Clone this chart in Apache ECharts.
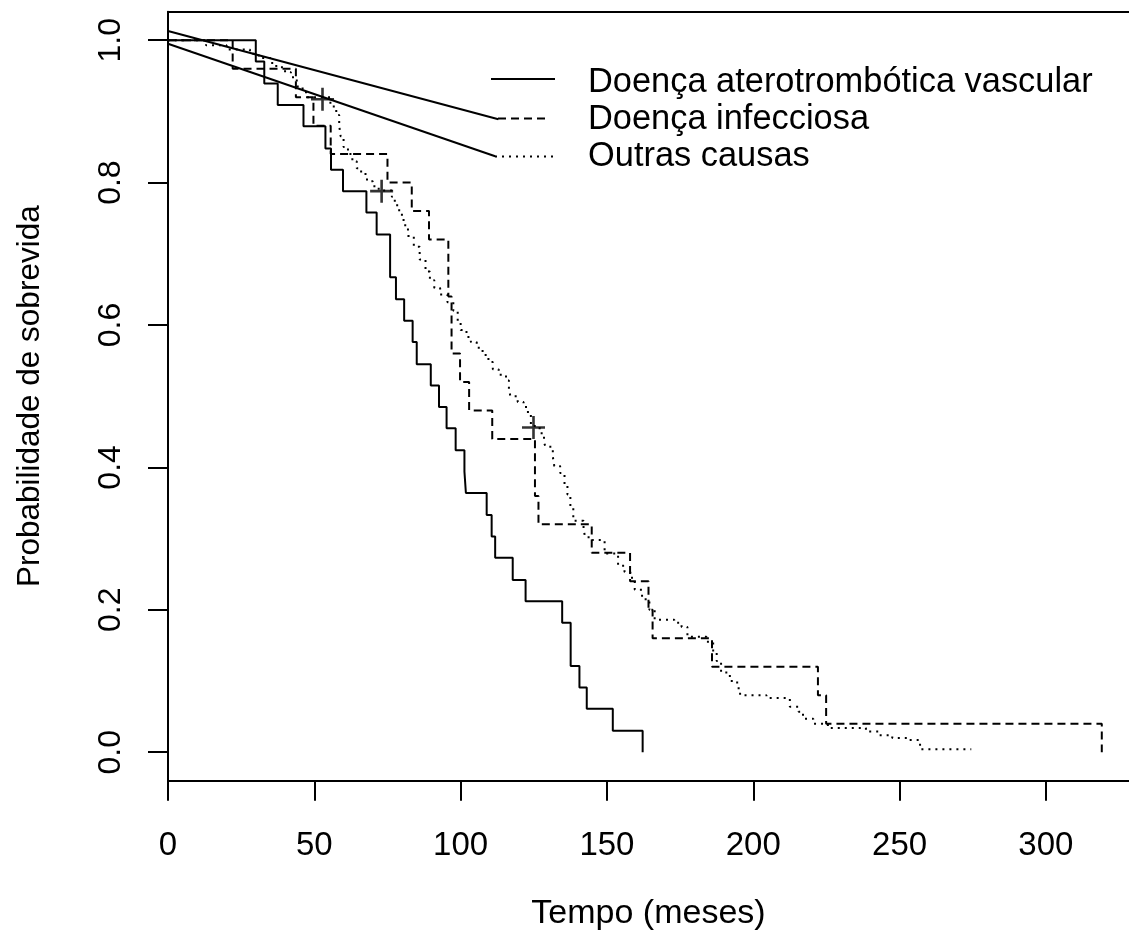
<!DOCTYPE html>
<html>
<head>
<meta charset="utf-8">
<script src="https://cdn.jsdelivr.net/npm/echarts@6/dist/echarts.min.js"></script>
<style>
html,body{margin:0;padding:0;background:#fff;}
#chart{width:1129px;height:938px;}
</style>
</head>
<body>
<div id="chart"></div>
<script>
// ---- Data ----
const seriesNames = ['Doença aterotrombótica vascular', 'Doença infecciosa', 'Outras causas'];

// Doença aterotrombótica vascular (solid)
const vascT = [0, 30.0, 32.9, 37.5, 46.3, 53.8, 55.7, 59.8, 67.8, 71.3, 75.9, 77.9, 80.7, 83.6, 85.0, 89.8, 92.6, 95.2, 98.3, 101.3, 101.8, 108.9, 110.6, 111.8, 117.8, 122.2, 134.7, 137.6, 140.6, 143.1, 152.0, 162.2];
const vascS = [1, 0.970, 0.939, 0.909, 0.879, 0.848, 0.818, 0.788, 0.758, 0.727, 0.667, 0.636, 0.606, 0.576, 0.545, 0.515, 0.485, 0.455, 0.424, 0.394, 0.364, 0.333, 0.303, 0.273, 0.242, 0.212, 0.182, 0.121, 0.091, 0.061, 0.030, 0.0];

// Doença infecciosa (dashed)
const infT = [0, 22.1, 43.7, 49.7, 55.6, 75.0, 83.3, 89.2, 95.8, 96.9, 99.8, 102.9, 110.8, 125.4, 126.6, 144.8, 157.9, 164.2, 165.6, 185.9, 222.1, 224.9, 319.1];
const infS = [1, 0.96, 0.92, 0.88, 0.84, 0.80, 0.76, 0.72, 0.64, 0.56, 0.52, 0.48, 0.44, 0.36, 0.32, 0.28, 0.24, 0.20, 0.16, 0.12, 0.08, 0.04, 0.0];

// Outras causas (dotted)
const outT = [0, 13, 20, 28, 31, 35, 37, 40, 42, 44, 46, 47.5, 55.5, 57.5, 58.5, 59, 60, 61.5, 63, 64.5, 66, 68, 70, 72, 76.5, 77.5, 79, 80.5, 82, 84, 86, 88, 89.5, 91, 93, 95.5, 97.5, 99, 100, 102, 103.5, 105.5, 107.5, 109.5, 111, 113, 115.5, 116.5, 117, 119.5, 121.5, 123, 124, 127, 128.5, 129, 131.5, 132, 134, 135.5, 136.5, 137.5, 138.5, 142, 142.5, 145, 149.2, 153.8, 156, 158, 159.5, 162, 164.5, 166.3, 173, 175.5, 177.5, 184, 186.3, 187.5, 189, 192, 194.5, 195.5, 204.5, 212.5, 215.5, 217, 220.5, 225.5, 238.5, 243, 247.5, 253, 257, 274.5];
const outS = [1, 0.993, 0.987, 0.981, 0.975, 0.968, 0.962, 0.955, 0.948, 0.935, 0.927, 0.920, 0.907, 0.895, 0.880, 0.865, 0.850, 0.840, 0.830, 0.820, 0.812, 0.802, 0.795, 0.789, 0.780, 0.768, 0.755, 0.740, 0.725, 0.710, 0.692, 0.675, 0.663, 0.652, 0.643, 0.632, 0.620, 0.605, 0.593, 0.583, 0.576, 0.568, 0.558, 0.548, 0.538, 0.530, 0.522, 0.510, 0.500, 0.492, 0.485, 0.475, 0.458, 0.448, 0.435, 0.429, 0.415, 0.402, 0.392, 0.375, 0.362, 0.345, 0.325, 0.315, 0.302, 0.298, 0.279, 0.262, 0.253, 0.245, 0.228, 0.215, 0.200, 0.186, 0.182, 0.176, 0.162, 0.155, 0.140, 0.128, 0.112, 0.100, 0.090, 0.080, 0.076, 0.064, 0.057, 0.047, 0.040, 0.034, 0.029, 0.024, 0.020, 0.017, 0.004, 0.004];

// censoring marks (+)
const censT = [52.8, 73.0, 124.9];
const censS = [0.917, 0.788, 0.456];

// the two straight lines running from the axis to the legend keys
const diagUpperT = [0, 112.9];
const diagUpperS = [1.013, 0.889];
const diagLowerT = [0, 111.8];
const diagLowerS = [0.995, 0.837];

// axis ticks
const xTicks = [0, 50, 100, 150, 200, 250, 300];
const yTicks = [0, 0.2, 0.4, 0.6, 0.8, 1.0];
const xTitle = 'Tempo (meses)';
const yTitle = 'Probabilidade de sobrevida';

// ---- Build ----
const zip = (a, b) => a.map((v, i) => [v, b[i]]);
const FONT = 'Liberation Sans, Arial, Helvetica, sans-serif';
const chart = echarts.init(document.getElementById('chart'), null, {renderer: 'canvas'});

const lineBase = {type: 'line', showSymbol: false, symbol: 'none', animation: false, silent: true, z: 3};
const X_MAX = 328.4;

const option = {
  backgroundColor: '#fff',
  animation: false,
  grid: {left: 168, top: 11.7, width: 961, height: 769, show: false, outerBoundsMode: 'none'},
  xAxis: [{
    type: 'value', min: 0, max: X_MAX, position: 'bottom',
    axisLine: {show: true, onZero: false, lineStyle: {color: '#000', width: 2}},
    splitLine: {show: false},
    axisTick: {show: true, length: 20, inside: false, customValues: xTicks, lineStyle: {color: '#000', width: 2}},
    axisLabel: {customValues: xTicks, margin: 49, color: '#000', fontSize: 33, fontFamily: FONT},
    name: xTitle, nameLocation: 'middle', nameGap: 116,
    nameTextStyle: {color: '#000', fontSize: 34, fontFamily: FONT}
  }, {
    type: 'value', min: 0, max: X_MAX, position: 'top',
    axisLine: {show: true, onZero: false, lineStyle: {color: '#000', width: 2}},
    splitLine: {show: false}, axisTick: {show: false}, axisLabel: {show: false}
  }],
  yAxis: {
    type: 'value', min: -0.04, max: 1.04,
    axisLine: {show: true, onZero: false, lineStyle: {color: '#000', width: 2}},
    splitLine: {show: false},
    axisTick: {show: true, length: 20, inside: false, customValues: yTicks, lineStyle: {color: '#000', width: 2}},
    axisLabel: {customValues: yTicks, rotate: 90, margin: 41, color: '#000', fontSize: 32, fontFamily: FONT,
      formatter: v => Number(v).toFixed(1)},
    name: yTitle, nameLocation: 'middle', nameGap: 122, nameRotate: 90,
    nameTextStyle: {color: '#000', fontSize: 31.5, fontFamily: FONT}
  },
  series: [
    Object.assign({}, lineBase, {name: seriesNames[0], step: 'end', data: zip(vascT, vascS),
      lineStyle: {color: '#000', width: 2, type: 'solid'}}),
    Object.assign({}, lineBase, {name: seriesNames[1], step: 'end', data: zip(infT, infS),
      lineStyle: {color: '#000', width: 2, type: [8, 5]}}),
    Object.assign({}, lineBase, {name: seriesNames[2], step: 'end', data: zip(outT, outS),
      lineStyle: {color: '#000', width: 2, type: [2, 5]}}),
    Object.assign({}, lineBase, {name: 'diagA', data: zip(diagUpperT, diagUpperS),
      lineStyle: {color: '#000', width: 2}}),
    Object.assign({}, lineBase, {name: 'diagB', data: zip(diagLowerT, diagLowerS),
      lineStyle: {color: '#000', width: 2}}),
    {type: 'scatter', name: 'censor', data: zip(censT, censS), animation: false, silent: true, z: 4,
      symbol: 'path://M0,10.2L23,10.2L23,12.8L0,12.8Z M10.2,0L12.8,0L12.8,23L10.2,23Z', symbolSize: 23,
      itemStyle: {color: '#000'}}
  ],
  graphic: [
    {type: 'line', shape: {x1: 491, y1: 79, x2: 555, y2: 79}, style: {stroke: '#000', lineWidth: 2}},
    {type: 'line', shape: {x1: 498, y1: 118.5, x2: 548, y2: 118.5}, style: {stroke: '#000', lineWidth: 2, lineDash: [8, 5]}},
    {type: 'line', shape: {x1: 495, y1: 156.5, x2: 553, y2: 156.5}, style: {stroke: '#000', lineWidth: 2, lineDash: [2, 5]}},
    {type: 'text', x: 588, y: 83, style: {text: seriesNames[0], fill: '#000', fontSize: 34.4, fontFamily: FONT, verticalAlign: 'middle', align: 'left'}},
    {type: 'text', x: 588, y: 120, style: {text: seriesNames[1], fill: '#000', fontSize: 34.4, fontFamily: FONT, verticalAlign: 'middle', align: 'left'}},
    {type: 'text', x: 588, y: 157, style: {text: seriesNames[2], fill: '#000', fontSize: 34.4, fontFamily: FONT, verticalAlign: 'middle', align: 'left'}}
  ]
};
chart.setOption(option);
</script>
</body>
</html>
